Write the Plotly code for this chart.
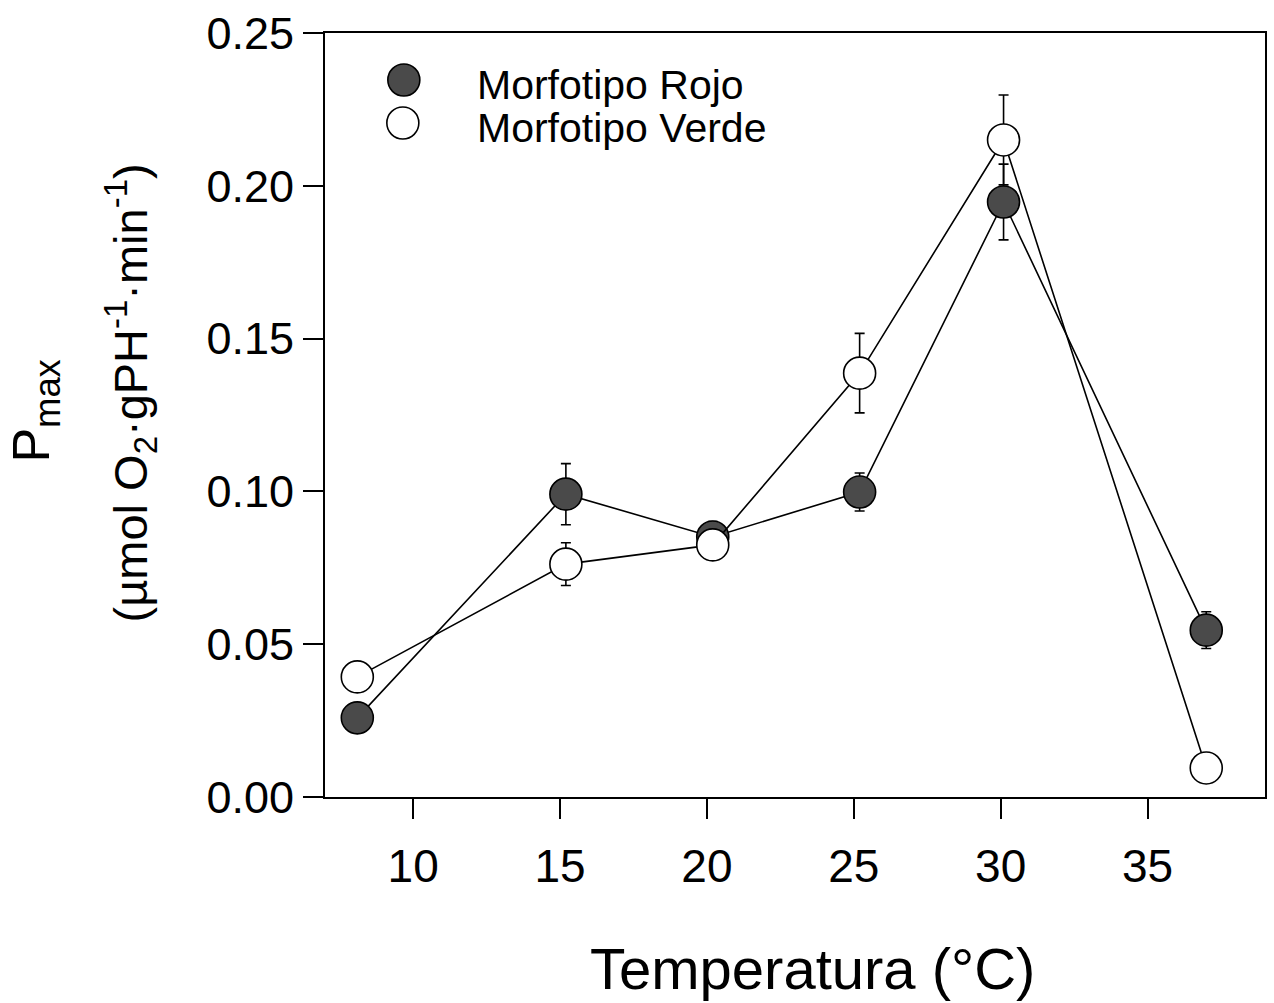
import plotly.graph_objects as go

# ---- data ----
temp_rojo = [8.1, 15.2, 20.2, 25.2, 30.1, 37.0]
pmax_rojo = [0.0259, 0.0991, 0.0851, 0.0998, 0.1947, 0.0546]
err_rojo = [0.0, 0.0100, 0.0050, 0.0062, 0.0124, 0.0060]

temp_verde = [8.1, 15.2, 20.2, 25.2, 30.1, 37.0]
pmax_verde = [0.0393, 0.0762, 0.0825, 0.1387, 0.2150, 0.0095]
err_verde = [0.0, 0.0070, 0.0, 0.0130, 0.0147, 0.0]

x_ticks = [10, 15, 20, 25, 30, 35]
y_ticks = [0.00, 0.05, 0.10, 0.15, 0.20, 0.25]

names = ["Morfotipo Rojo", "Morfotipo Verde"]
fills = ["#4a4a4a", "white"]

FONT = "Liberation Sans, Arial, sans-serif"

W, H = 1274, 1003
L, R, T, B = 325, 7, 33, 206
PW, PH = W - L - R, H - T - B


def px(xp):
    return (xp - L) / PW


def py(yp):
    return (H - B - yp) / PH


fig = go.Figure()

for xs, ys, es, fill, name in [
    (temp_rojo, pmax_rojo, err_rojo, fills[0], names[0]),
    (temp_verde, pmax_verde, err_verde, fills[1], names[1]),
]:
    fig.add_trace(go.Scatter(
        x=xs, y=ys, name=name, mode="lines+markers",
        line=dict(color="black", width=1.6),
        marker=dict(size=32, color=fill, line=dict(color="black", width=1.6)),
        error_y=dict(type="data", array=es, visible=True, color="black",
                     thickness=1.6, width=5),
        showlegend=False,
    ))

# legend (drawn manually to keep the large symbols)
shapes = []
annotations = []
for (cx, cy, r), fill, name, ty in [
    ((404, 80, 16), fills[0], names[0], 85),
    ((403, 123, 16), fills[1], names[1], 128),
]:
    shapes.append(dict(
        type="circle", xref="paper", yref="paper",
        xsizemode="pixel", ysizemode="pixel",
        xanchor=px(cx), yanchor=py(cy),
        x0=-r, x1=r, y0=-r, y1=r,
        fillcolor=fill, line=dict(color="black", width=1.6),
    ))
    annotations.append(dict(
        text=name, xref="paper", yref="paper", x=px(475), y=py(ty),
        xanchor="left", yanchor="middle", showarrow=False,
        font=dict(family=FONT, size=41, color="black"),
    ))

# axis titles
annotations.append(dict(
    text="Temperatura (°C)", xref="paper", yref="paper",
    x=px(814), y=py(968), xanchor="center", yanchor="middle",
    showarrow=False, font=dict(family=FONT, size=58, color="black"),
))
annotations.append(dict(
    text="P<sub>max</sub>", xref="paper", yref="paper",
    x=px(34), y=py(411), xanchor="center", yanchor="middle", textangle=-90,
    showarrow=False, font=dict(family=FONT, size=52, color="black"),
))
annotations.append(dict(
    text="(µmol O<sub>2</sub>·gPH<sup>-1</sup>·min<sup>-1</sup>)",
    xref="paper", yref="paper",
    x=px(130), y=py(393), xanchor="center", yanchor="middle", textangle=-90,
    showarrow=False, font=dict(family=FONT, size=47, color="black"),
))

fig.update_layout(
    width=W, height=H,
    margin=dict(l=L, r=R, t=T, b=B, pad=0),
    paper_bgcolor="white", plot_bgcolor="white",
    font=dict(family=FONT, color="black"),
    shapes=shapes, annotations=annotations,
    xaxis=dict(
        range=[7, 39], tickvals=x_ticks, ticktext=[str(v) for v in x_ticks],
        ticks="outside", ticklen=20, tickwidth=1.6, tickcolor="black",
        ticklabelstandoff=8,
        showline=True, linecolor="black", linewidth=2, mirror=True,
        showgrid=False, zeroline=False,
        tickfont=dict(family=FONT, size=46, color="black"),
    ),
    yaxis=dict(
        range=[0, 0.25], tickvals=y_ticks,
        ticktext=[f"{v:.2f}" for v in y_ticks],
        ticks="outside", ticklen=20, tickwidth=1.6, tickcolor="black",
        showline=True, linecolor="black", linewidth=2, mirror=True,
        showgrid=False, zeroline=False,
        tickfont=dict(family=FONT, size=45, color="black"),
    ),
)

fig.write_html(
    "out.html",
    config={"displayModeBar": False},
    post_script="document.body.style.margin='0';document.body.style.overflow='hidden';",
)
